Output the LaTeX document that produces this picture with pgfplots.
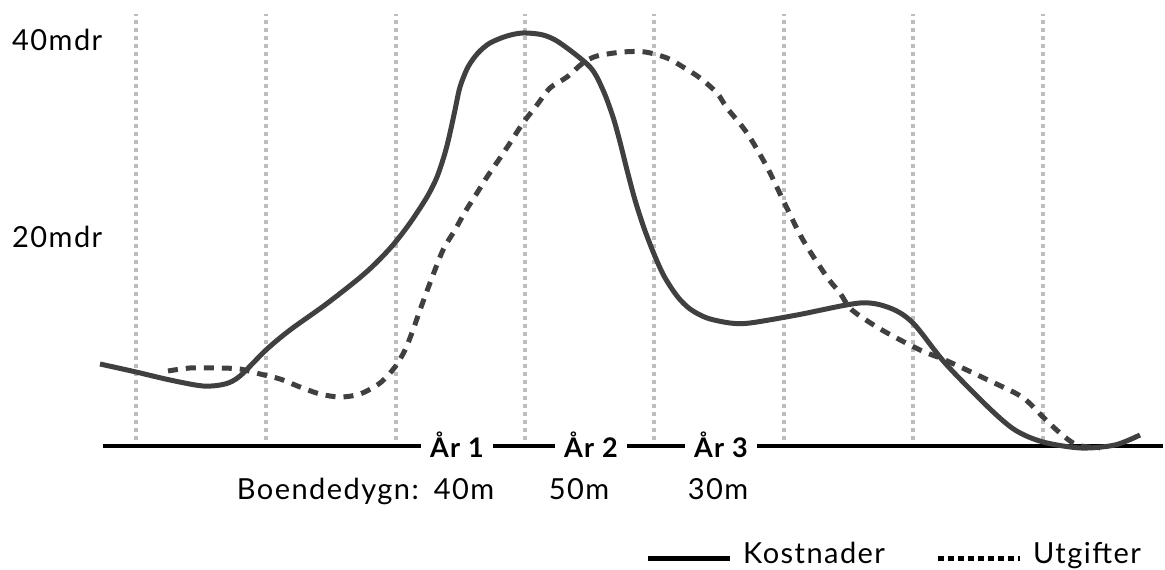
\documentclass[border=0pt]{standalone}
\usepackage{fontspec}
\setmainfont{Lato}[LetterSpace=5]
\usepackage{pgfplots}
\pgfplotsset{compat=1.18}
\definecolor{curve}{HTML}{404040}
\definecolor{gridc}{HTML}{BDBDBD}
\begin{document}
\begin{tikzpicture}
\begin{axis}[
  scale only axis, width=1165pt, height=570pt,
  xmin=0, xmax=1165, ymin=-12.8, ymax=44.2,
  hide axis, clip=false,
  legend image code/.code={\draw[#1] (0pt,-5pt) -- (82pt,-5pt);},
  legend style={at={(axis cs:645,-11.2)}, anchor=west, draw=none, fill=none,
    inner sep=0pt, legend columns=2, font=\fontsize{29}{32}\selectfont,
    nodes={inner sep=0pt},
    /tikz/every odd column/.append style={column sep=11pt},
    /tikz/every even column/.append style={column sep=50pt}},
  legend cell align=left,
]
\pgfplotsinvokeforeach{136,266,396,525,654,784,913,1043}{
  \draw[gridc, line width=3.5pt, dash pattern=on 4pt off 4pt] (axis cs:#1,0.2) -- (axis cs:#1,42.8);
}
\draw[black, line width=4pt] (axis cs:103,-0.4) -- (axis cs:1163,-0.4);

\node[anchor=west, inner sep=0pt, font=\fontsize{29}{32}\selectfont] at (axis cs:12,40.2) {40mdr};
\node[anchor=west, inner sep=0pt, font=\fontsize{29}{32}\selectfont] at (axis cs:12,20.5) {20mdr};

\node[anchor=base, fill=white, inner xsep=9pt, inner ysep=5pt, font=\fontsize{27}{30}\selectfont\bfseries] at (axis cs:457,-1.6) {År 1};
\node[anchor=base, fill=white, inner xsep=9pt, inner ysep=5pt, font=\fontsize{27}{30}\selectfont\bfseries] at (axis cs:591,-1.6) {År 2};
\node[anchor=base, fill=white, inner xsep=9pt, inner ysep=5pt, font=\fontsize{27}{30}\selectfont\bfseries] at (axis cs:721,-1.6) {År 3};

\node[anchor=base east, font=\fontsize{29}{32}\selectfont, inner sep=0pt] at (axis cs:419,-5.8) {Boendedygn:};
\node[anchor=base, font=\fontsize{29}{32}\selectfont, inner sep=0pt] at (axis cs:464,-5.8) {40m};
\node[anchor=base, font=\fontsize{29}{32}\selectfont, inner sep=0pt] at (axis cs:579,-5.8) {50m};
\node[anchor=base, font=\fontsize{29}{32}\selectfont, inner sep=0pt] at (axis cs:718,-5.8) {30m};

% Kostnader
\addplot[curve, line width=5pt, smooth, forget plot] coordinates {
(100,7.8) (136,7.0) (170,6.2) (203,5.6) (225,5.8) (240,6.6) (266,9.2) (290,11.2)
(325,13.7) (357,16.2) (375,17.8) (393,19.7) (410,21.9) (427,24.5)
(437,26.5) (445,28.9) (450,30.9) (455,33.2) (460,35.5) (468,37.5) (478,38.9)
(490,39.9) (507,40.6) (523,40.9) (543,40.7) (560,39.9) (590,37.5) (603,35.2)
(613,32.5) (620,30.0) (627,27.2) (635,24.2) (644,21.4) (654,18.8) (664,16.6)
(677,14.6) (690,13.3) (707,12.4) (730,11.9) (750,11.9) (797,12.7) (860,13.9)
(890,13.4) (913,11.9) (945,7.9) (988,3.5) (1015,1.2) (1043,0) (1081,-0.6)
(1115,-0.3) (1140,0.7)
};
% Utgifter
\addplot[curve, line width=5pt, smooth, dash pattern=on 10pt off 8pt, forget plot] coordinates {
(168,7.1) (190,7.4) (217,7.4) (240,7.3) (260,6.8) (280,6.3) (300,5.5) (320,4.8)
(340,4.5) (360,4.8) (380,5.9) (395,7.5) (405,9.2) (413,11.2) (420,13.2) (430,15.9)
(443,19.2) (455,21.2) (465,23.0) (477,24.9) (487,26.5) (500,28.4) (510,29.9)
(523,31.9) (537,33.7) (550,35.4) (567,36.5) (583,37.9) (597,38.6) (623,39.0)
(645,39.0) (667,38.4) (683,37.5) (700,36.4) (717,34.9) (727,33.4) (747,30.9)
(767,27.5) (783,24.2) (803,20.2) (827,16.5) (840,14.9) (852,13.2) (882,11.2)
(920,9.2) (945,8.2) (988,6.2) (1022,4.5) (1043,2.5) (1060,0.9) (1077,-0.3)
(1100,-0.6)
};
\addlegendimage{black, line width=5pt}
\addlegendentry{Kostnader}
\addlegendimage{black, line width=5pt, dash pattern=on 6pt off 4pt}
\addlegendentry{Utgifter}
\end{axis}
\pgfresetboundingbox
\path (0,0) rectangle (1165pt,570pt);
\end{tikzpicture}
\end{document}
